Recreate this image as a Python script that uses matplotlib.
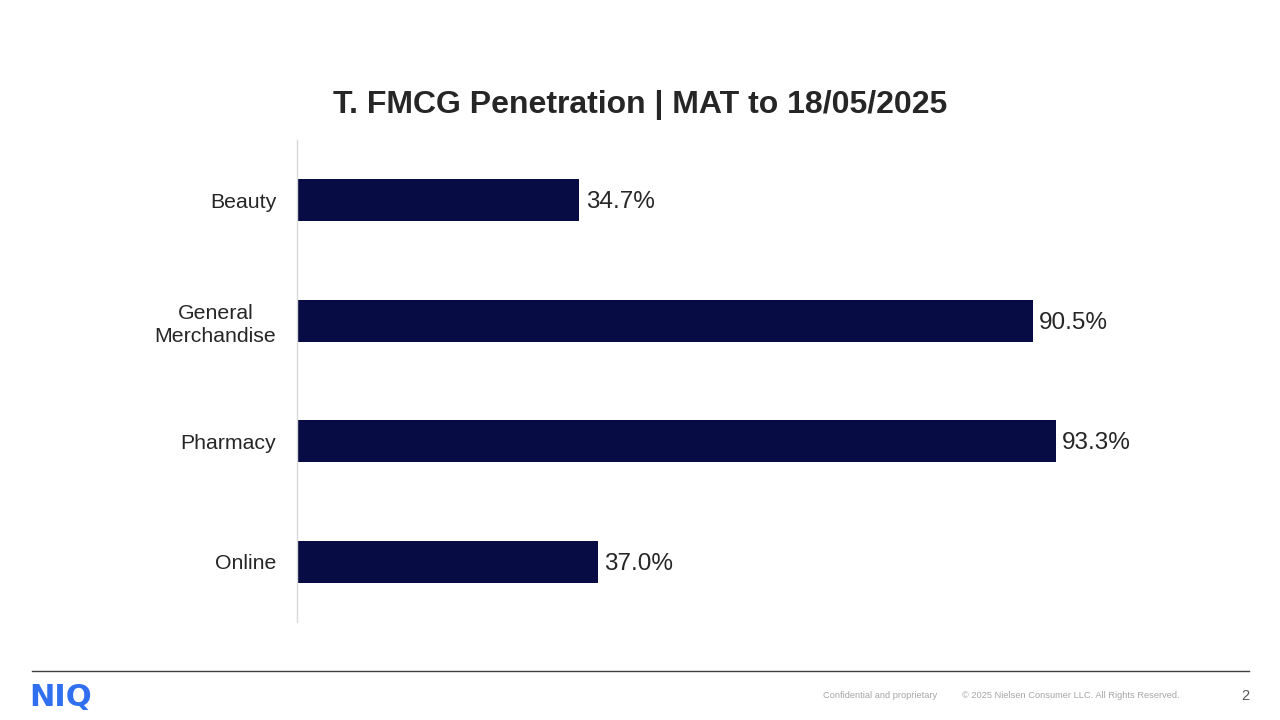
import matplotlib
matplotlib.use("Agg")
import matplotlib.pyplot as plt

categories = ["Beauty", "General\nMerchandise", "Pharmacy", "Online"]
penetration = [34.7, 90.5, 93.3, 37.0]
value_labels = ["34.7%", "90.5%", "93.3%", "37.0%"]

plt.rcParams["font.family"] = ["Liberation Sans", "DejaVu Sans"]
NAVY = "#080c45"
TXT = "#262626"

fig = plt.figure(figsize=(12.8, 7.2), dpi=100)
W, H = 1280, 720
# axes: x 297..1110 px (0..100%), y 140..622 px
ax = fig.add_axes([297 / W, 1 - 622 / H, (1110 - 297) / W, (622 - 140) / H])
ypos = list(range(len(categories)))
ax.barh(ypos, penetration, height=0.35, color=NAVY)
ax.set_xlim(0, 100)
ax.set_ylim(len(categories) - 0.5, -0.5)
ax.set_yticks(ypos)
ax.set_yticklabels(categories, fontsize=15.3, color=TXT, linespacing=1.3)
for lab in ax.get_yticklabels():
    lab.set_multialignment("center")
ax.tick_params(axis="y", length=0, pad=15)
ax.set_xticks([])
for s in ("top", "right", "bottom"):
    ax.spines[s].set_visible(False)
ax.spines["left"].set_color("#d9d9d9")
ax.spines["left"].set_linewidth(1.0)
for y, v, t in zip(ypos, penetration, value_labels):
    ax.text(v + 0.8, y + 0.015, t, va="center", ha="left", fontsize=17.5, color=TXT)

fig.text(640 / W, 1 - 105 / H, "T. FMCG Penetration | MAT to 18/05/2025",
         ha="center", va="center", fontsize=23, fontweight="bold", color=TXT)

# footer
fig.add_artist(plt.Line2D([32 / W, 1249 / W], [1 - 671 / H] * 2,
                          color="#404040", lw=1.0))
fig.text(29 / W, 1 - 697 / H, "NIQ", ha="left", va="center", fontsize=22,
         fontweight="bold", color="#2f6ff0", family=["DejaVu Sans"])
fig.text(823 / W, 1 - 695 / H, "Confidential and proprietary", ha="left",
         va="center", fontsize=6.7, color="#a6a6a6")
fig.text(962 / W, 1 - 695 / H, "\u00a9 2025 Nielsen Consumer LLC. All Rights Reserved.",
         ha="left", va="center", fontsize=6.7, color="#a6a6a6")
fig.text(1249 / W, 1 - 696 / H, "2", ha="right", va="center", fontsize=10.5,
         color="#595959")

fig.savefig("out.png", dpi=100)
